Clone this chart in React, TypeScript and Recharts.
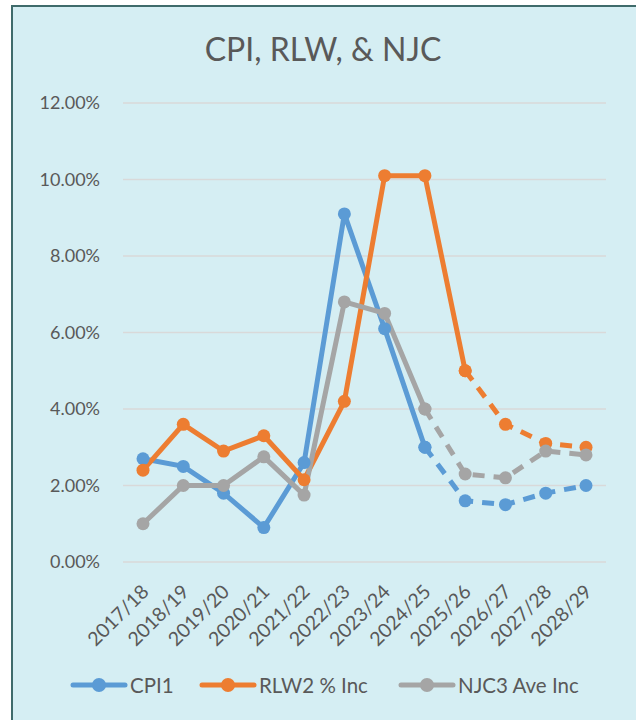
import React from 'react';
import { LineChart, Line, XAxis, YAxis, CartesianGrid, Legend } from 'recharts';

const categories = ['2017/18', '2018/19', '2019/20', '2020/21', '2021/22', '2022/23', '2023/24', '2024/25', '2025/26', '2026/27', '2027/28', '2028/29'];
const cpiSolid = [2.7, 2.5, 1.8, 0.9, 2.6, 9.1, 6.1, 3.0, null, null, null, null];
const cpiDashed = [null, null, null, null, null, null, null, 3.0, 1.6, 1.5, 1.8, 2.0];
const rlwSolid = [2.4, 3.6, 2.9, 3.3, 2.15, 4.2, 10.1, 10.1, 5.0, null, null, null];
const rlwDashed = [null, null, null, null, null, null, null, null, 5.0, 3.6, 3.1, 3.0];
const njcSolid = [1.0, 2.0, 2.0, 2.75, 1.75, 6.8, 6.5, 4.0, null, null, null, null];
const njcDashed = [null, null, null, null, null, null, null, 4.0, 2.3, 2.2, 2.9, 2.8];
const yTicks = [0, 2, 4, 6, 8, 10, 12];
const seriesNames = ['CPI1', 'RLW2 % Inc', 'NJC3 Ave Inc'];
const colors = ['#5b9bd5', '#ed7d31', '#a5a5a5'];

const data = categories.map((c, i) => ({
  cat: c,
  cpiS: cpiSolid[i], cpiD: cpiDashed[i],
  rlwS: rlwSolid[i], rlwD: rlwDashed[i],
  njcS: njcSolid[i], njcD: njcDashed[i],
}));

const FONT = 'Lato, "Open Sans", sans-serif';
const TEXT = '#595959';

const XTick = (props: any) => {
  const { x, y, payload } = props;
  const ax = x + 7;
  const ay = y + 23;
  return (
    <text x={ax} y={ay} textAnchor="end" fill={TEXT} fontSize={19.5} fontFamily={FONT}
      transform={`rotate(-45, ${ax}, ${ay})`}>
      {payload.value}
    </text>
  );
};

const legendLefts = [70, 199, 398];

const LegendContent = () => (
  <div style={{ position: 'relative', width: 636, height: 34, fontFamily: FONT, fontSize: 20.5, color: TEXT, whiteSpace: 'nowrap' }}>
    {seriesNames.map((n, i) => (
      <div key={n} style={{ position: 'absolute', left: legendLefts[i], top: 0, height: 34, display: 'flex', alignItems: 'center' }}>
        <svg width={58} height={16} style={{ marginRight: 2 }}>
          <line x1={3} y1={8} x2={55} y2={8} stroke={colors[i]} strokeWidth={5} strokeLinecap="round" />
          <circle cx={29} cy={8} r={7} fill={colors[i]} />
        </svg>
        <span>{n}</span>
      </div>
    ))}
  </div>
);

export default function App() {
  const dot = (c: string) => ({ r: 6.5, fill: c, stroke: c, strokeWidth: 0 });
  return (
    <div style={{ position: 'absolute', left: 0, top: 0, width: 636, height: 720, overflow: 'hidden', background: '#fff' }}>
      <div style={{ position: 'absolute', left: 11, top: 5, width: 630, height: 730, background: '#d5eef3', borderLeft: '2px solid #3f6b6b', borderTop: '2px solid #3f6b6b', borderRight: '2px solid #3f6b6b', boxSizing: 'border-box' }} />
      <div style={{ position: 'absolute', left: 0, top: 27, width: 646, textAlign: 'center', fontFamily: FONT, fontSize: 32, color: TEXT, lineHeight: '44px' }}>
        CPI, RLW, &amp; NJC
      </div>
      <div style={{ position: 'absolute', left: 0, top: 0 }}>
        <LineChart width={636} height={720} data={data} margin={{ top: 103, right: 30, left: 10, bottom: 70 }}>
          <CartesianGrid vertical={false} stroke="#d9d9d9" strokeWidth={1.5} />
          <XAxis dataKey="cat" axisLine={false} tickLine={false} height={54} tick={<XTick />} interval={0} padding={{ left: 20, right: 20 }} />
          <YAxis domain={[0, 12]} ticks={yTicks} width={113} axisLine={false} tickLine={false} tickSize={0} tickMargin={23}
            tickFormatter={(v: number) => v.toFixed(2) + '%'}
            tick={{ fill: TEXT, fontSize: 18, fontFamily: FONT }} />
          <Legend verticalAlign="bottom" align="left" content={<LegendContent />} wrapperStyle={{ top: 668, bottom: 'auto', left: 0 }} />
          <Line dataKey="cpiS" stroke={colors[0]} strokeWidth={5} dot={dot(colors[0])} activeDot={false} isAnimationActive={false} />
          <Line dataKey="cpiD" stroke={colors[0]} strokeWidth={5} strokeDasharray="12 9" dot={dot(colors[0])} activeDot={false} isAnimationActive={false} />
          <Line dataKey="rlwS" stroke={colors[1]} strokeWidth={5} dot={dot(colors[1])} activeDot={false} isAnimationActive={false} />
          <Line dataKey="rlwD" stroke={colors[1]} strokeWidth={5} strokeDasharray="12 9" dot={dot(colors[1])} activeDot={false} isAnimationActive={false} />
          <Line dataKey="njcS" stroke={colors[2]} strokeWidth={5} dot={dot(colors[2])} activeDot={false} isAnimationActive={false} />
          <Line dataKey="njcD" stroke={colors[2]} strokeWidth={5} strokeDasharray="12 9" dot={dot(colors[2])} activeDot={false} isAnimationActive={false} />
        </LineChart>
      </div>
    </div>
  );
}
